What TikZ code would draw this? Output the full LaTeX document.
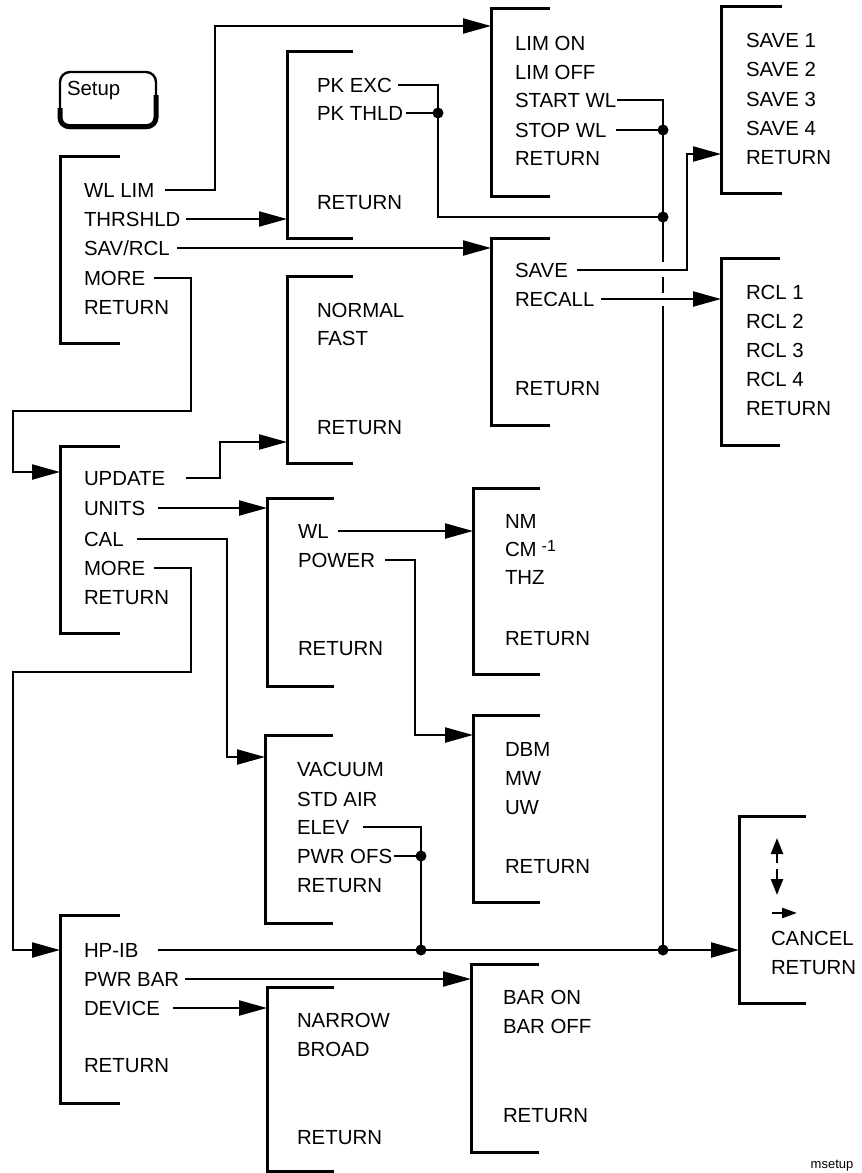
\documentclass[tikz,border=0pt]{standalone}
\usepackage{fontspec}
\setmainfont{Liberation Sans}
\usetikzlibrary{arrows.meta,calc}
\newcommand\menubracket[5]{%
  \node[boxn, minimum width=#5pt, minimum height={(#4)-(#3)}] (#1) at (#2,#3) {};
  \draw[brk] (#1.north east) -- (#1.north west) -- (#1.south west) -- (#1.south east);}
\begin{document}
\begin{tikzpicture}[x=1pt,y=-1pt,
  itm/.style={anchor=west, inner sep=0pt, outer sep=0pt, text height=14.6pt, text depth=0pt, font=\fontsize{20.4}{24}\selectfont},
  brk/.style={line width=3pt},
  conn/.style={line width=2.2pt},
  arr/.style={conn, -{Triangle[length=28pt,width=15pt]}},
  dot/.style={circle, fill, inner sep=0pt, minimum size=11pt},
  boxn/.style={inner sep=0pt, outer sep=0pt, anchor=north west}]
\useasboundingbox (0,0) rectangle (862,1173);

% Setup key
\draw[line width=2.4pt, rounded corners=10pt] (60,72) rectangle (156,128);
\draw[line width=5pt, rounded corners=9pt] (60,108) -- (60,126.5) -- (156,126.5) -- (156,95);
\node[itm] (setup) at (67,88) {Setup};

% Menu 1
\menubracket{M1}{60}{156}{343}{60}
\node[itm] (wllim) at (84,190) {WL LIM};
\node[itm] (thrshld) at (84,219) {THRSHLD};
\node[itm] (savrcl) at (84,248) {SAV/RCL};
\node[itm] (moreA) at (84,278) {MORE};
\node[itm] (retA) at (84,307) {RETURN};

% PK box
\menubracket{PK}{287}{51}{238}{66}
\node[itm] (pkexc) at (317,85) {PK EXC};
\node[itm] (pkthld) at (317,113) {PK THLD};
\node[itm] (retPK) at (317,202) {RETURN};

% NORMAL box
\menubracket{NF}{287}{276}{463}{66}
\node[itm] (normal) at (317,310) {NORMAL};
\node[itm] (fast) at (317,338) {FAST};
\node[itm] (retNF) at (317,427) {RETURN};

% LIM box
\menubracket{LIM}{491}{8}{196}{59}
\node[itm] (limon) at (515,43) {LIM ON};
\node[itm] (limoff) at (515,72) {LIM OFF};
\node[itm] (startwl) at (515,100) {START WL};
\node[itm] (stopwl) at (515,130) {STOP WL};
\node[itm] (retLIM) at (515,158) {RETURN};

% SAV/RCL box
\menubracket{SR}{491}{238}{425}{59}
\node[itm] (save) at (515,270) {SAVE};
\node[itm] (recall) at (515,299) {RECALL};
\node[itm] (retSR) at (515,388) {RETURN};

% SAVE box
\menubracket{SV}{721}{6}{193}{61}
\node[itm] (sv1) at (746,40) {SAVE 1};
\node[itm] (sv2) at (746,69) {SAVE 2};
\node[itm] (sv3) at (746,99) {SAVE 3};
\node[itm] (sv4) at (746,128) {SAVE 4};
\node[itm] (retSV) at (746,157) {RETURN};

% RCL box
\menubracket{RC}{721}{258}{445}{59}
\node[itm] (rc1) at (746,292) {RCL 1};
\node[itm] (rc2) at (746,321) {RCL 2};
\node[itm] (rc3) at (746,350) {RCL 3};
\node[itm] (rc4) at (746,379) {RCL 4};
\node[itm] (retRC) at (746,408) {RETURN};

% Menu 2
\menubracket{M2}{60}{446}{633}{60}
\node[itm] (update) at (84,478) {UPDATE};
\node[itm] (units) at (84,508) {UNITS};
\node[itm] (cal) at (84,539) {CAL};
\node[itm] (moreB) at (84,568) {MORE};
\node[itm] (retB) at (84,597) {RETURN};

% Units box
\menubracket{UN}{267}{498}{686}{67}
\node[itm] (wl) at (298,531) {WL};
\node[itm] (power) at (298,560) {POWER};
\node[itm] (retUN) at (298,648) {RETURN};

% WL units box
\menubracket{WLU}{473}{488}{674}{67}
\node[itm] (nm) at (505,521) {NM};
\node[itm] (cm) at (505,549) {CM\hspace{5pt}\raisebox{5pt}{\fontsize{16}{16}\selectfont -1}};
\node[itm] (thz) at (505,577) {THZ};
\node[itm] (retWLU) at (505,638) {RETURN};

% Power units box
\menubracket{PW}{473}{715}{902}{67}
\node[itm] (dbm) at (505,749) {DBM};
\node[itm] (mw) at (505,778) {MW};
\node[itm] (uw) at (505,807) {UW};
\node[itm] (retPW) at (505,866) {RETURN};

% Cal box
\menubracket{CA}{265}{735}{923}{68}
\node[itm] (vacuum) at (297,769) {VACUUM};
\node[itm] (stdair) at (297,799) {STD AIR};
\node[itm] (elev) at (297,827) {ELEV};
\node[itm] (pwrofs) at (297,856) {PWR OFS};
\node[itm] (retCA) at (297,885) {RETURN};

% Menu 3
\menubracket{M3}{60}{915}{1103}{60}
\node[itm] (hpib) at (84,950) {HP-IB};
\node[itm] (pwrbar) at (84,979) {PWR BAR};
\node[itm] (device) at (84,1008) {DEVICE};
\node[itm] (retC) at (84,1065) {RETURN};

% HP-IB box
\menubracket{HP}{739}{816}{1003}{67}
\draw[line width=2.4pt, -{Triangle[length=16pt,width=12pt]}] (777,863) -- (777,838);
\draw[line width=2.4pt, -{Triangle[length=16pt,width=12pt]}] (777,869) -- (777,895);
\draw[line width=2.4pt, -{Triangle[length=15pt,width=10pt]}] (772,913) -- (797,913);
\node[itm] (cancel) at (771,938) {CANCEL};
\node[itm] (retHP) at (771,967) {RETURN};

% Bar box
\menubracket{PB}{471}{964}{1152}{68}
\node[itm] (baron) at (503,997) {BAR ON};
\node[itm] (baroff) at (503,1026) {BAR OFF};
\node[itm] (retPB) at (503,1115) {RETURN};

% Device box
\menubracket{DV}{267}{987}{1171}{67}
\node[itm] (narrow) at (297,1020) {NARROW};
\node[itm] (broad) at (297,1049) {BROAD};
\node[itm] (retDV) at (297,1137) {RETURN};

\node[inner sep=0pt, font=\fontsize{13}{13}\selectfont] (tag) at (832,1166) {msetup};

% bend coordinates
\coordinate (b1) at (215,26);
\coordinate (b2) at (191,411);
\coordinate (b3) at (13,472);
\coordinate (b4) at (687,154);
\coordinate (b5) at (220,442);
\coordinate (b6) at (227,757);
\coordinate (b7) at (191,672);
\coordinate (b8) at (13,950);
\coordinate (b9) at (415,735);
\coordinate (jT) at (438,217);
\coordinate (jM) at (663,217);
\coordinate (jB) at (663,950);
\coordinate (jE) at (421,950);

% connectors
\draw[arr] ([xshift=11pt]wllim.east) -| (b1) -- (b1 -| LIM.west);
\draw[arr] ([xshift=6pt]thrshld.east) -- (thrshld -| PK.west);
\draw[arr] ([xshift=7pt]savrcl.east) -- (savrcl -| SR.west);
\draw[arr] ([xshift=9pt]moreA.east) -| (b2) -| (b3) -- (b3 -| M2.west);

\draw[conn] ([xshift=6pt]pkexc.east) -| (jT) -- (jM);
\draw[conn] ([xshift=3pt]pkthld.east) -- (pkthld -| jT);
\node[dot] (d1) at (pkthld -| jT) {};

\draw[conn] ([xshift=1pt]startwl.east) -| (663,262);
\draw[conn] (663,277) -- (663,293);
\draw[conn] (663,306) -- (jB);
\draw[conn] ([xshift=10pt]stopwl.east) -- (stopwl -| jM);
\node[dot] (d2) at (stopwl -| jM) {};
\node[dot] (d3) at (jM) {};

\draw[arr] ([xshift=9pt]save.east) -| (b4) -- (b4 -| SV.west);
\draw[arr] ([xshift=7pt]recall.east) -- (recall -| RC.west);

\draw[arr] ([xshift=21pt]update.east) -| (b5) -- (b5 -| NF.west);
\draw[arr] ([xshift=13pt]units.east) -- (units -| UN.west);
\draw[arr] ([xshift=13pt]cal.east) -| (b6) -- (b6 -| CA.west);
\draw[arr] ([xshift=9pt]moreB.east) -| (b7) -| (b8) -- (b8 -| M3.west);

\draw[arr] ([xshift=9pt]wl.east) -- (wl -| WLU.west);
\draw[arr] ([xshift=10pt]power.east) -| (b9) -- (b9 -| PW.west);

\draw[conn] ([xshift=14pt]elev.east) -| (jE);
\draw[conn] ([xshift=2pt]pwrofs.east) -- (pwrofs -| jE);
\node[dot] (d4) at (pwrofs -| jE) {};

\draw[arr] ([xshift=20pt]hpib.east) -- (hpib -| HP.west);
\node[dot] (d5) at (jE) {};
\node[dot] (d6) at (jB) {};
\draw[arr] ([xshift=6pt]pwrbar.east) -- (pwrbar -| PB.west);
\draw[arr] ([xshift=13pt]device.east) -- (device -| DV.west);
\end{tikzpicture}
\end{document}
